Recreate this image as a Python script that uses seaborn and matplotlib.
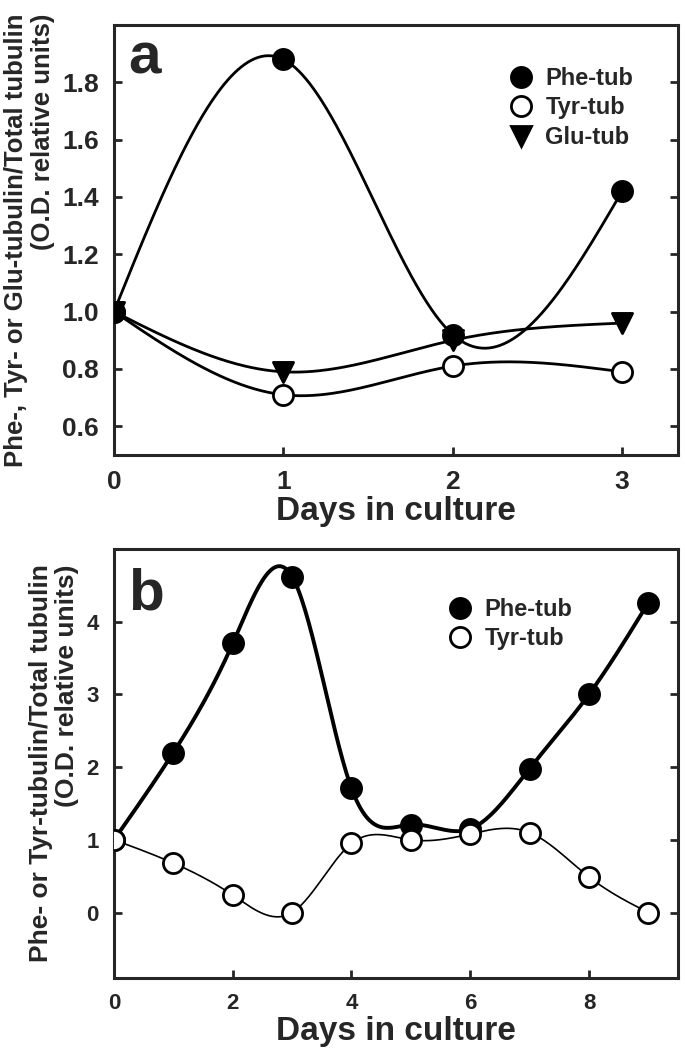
import numpy as np
import pandas as pd
import matplotlib
matplotlib.use("Agg")
import matplotlib.pyplot as plt
from matplotlib.lines import Line2D
import seaborn as sns

# ---------------- data ----------------
days_a = [0, 1, 2, 3]
phe_a = [1.00, 1.88, 0.92, 1.42]
tyr_a = [1.00, 0.71, 0.81, 0.79]
glu_a = [1.00, 0.79, 0.90, 0.96]

days_b = [0, 1, 2, 3, 4, 5, 6, 7, 8, 9]
phe_b = [1.00, 2.20, 3.70, 4.62, 1.71, 1.21, 1.15, 1.98, 3.00, 4.26]
tyr_b = [1.00, 0.68, 0.24, 0.00, 0.95, 1.00, 1.08, 1.10, 0.49, 0.00]

yticks_a = [0.6, 0.8, 1.0, 1.2, 1.4, 1.6, 1.8]
xticks_a = [0, 1, 2, 3]
yticks_b = [0, 1, 2, 3, 4]
xticks_b = [0, 2, 4, 6, 8]

ylabel_a = "Phe-, Tyr- or Glu-tubulin/Total tubulin\n(O.D. relative units)"
ylabel_b = "Phe- or Tyr-tubulin/Total tubulin\n(O.D. relative units)"
xlabel = "Days in culture"


def natural_spline(x, y, num=300):
    x = np.asarray(x, float)
    y = np.asarray(y, float)
    n = len(x)
    h = np.diff(x)
    A = np.zeros((n, n))
    r = np.zeros(n)
    A[0, 0] = 1
    A[-1, -1] = 1
    for i in range(1, n - 1):
        A[i, i - 1] = h[i - 1]
        A[i, i] = 2 * (h[i - 1] + h[i])
        A[i, i + 1] = h[i]
        r[i] = 6 * ((y[i + 1] - y[i]) / h[i] - (y[i] - y[i - 1]) / h[i - 1])
    M = np.linalg.solve(A, r)
    xs = np.linspace(x[0], x[-1], num)
    idx = np.clip(np.searchsorted(x, xs) - 1, 0, n - 2)
    x0, x1 = x[idx], x[idx + 1]
    hh = x1 - x0
    a = (x1 - xs) / hh
    b = (xs - x0) / hh
    ys = (a * y[idx] + b * y[idx + 1]
          + ((a ** 3 - a) * M[idx] + (b ** 3 - b) * M[idx + 1]) * hh ** 2 / 6)
    return xs, ys


sns.set_style("ticks")
plt.rcParams["font.family"] = ["Liberation Sans", "DejaVu Sans"]
plt.rcParams["font.weight"] = "bold"
plt.rcParams["axes.labelweight"] = "bold"

fig = plt.figure(figsize=(6.85, 10.49), dpi=100)
ax_a = fig.add_axes([0.1664, 0.5663, 0.8234, 0.4099])
ax_b = fig.add_axes([0.1664, 0.0677, 0.8234, 0.4090])

MS = 14.5  # marker diameter in points


def draw_curve(ax, x, y, lw, z):
    xs, ys = natural_spline(x, y)
    sns.lineplot(x=xs, y=ys, ax=ax, color="black", linewidth=lw,
                 estimator=None, sort=False, zorder=z)


def draw_points(ax, x, y, marker, face, z):
    sns.scatterplot(x=x, y=y, ax=ax, marker=marker, s=MS ** 2,
                    color=face, edgecolor="black", linewidth=2.0, zorder=z)


# ---- panel a ----
draw_curve(ax_a, days_a, phe_a, 2.0, 2)
draw_curve(ax_a, days_a, tyr_a, 2.0, 2)
draw_curve(ax_a, days_a, glu_a, 2.0, 2)
draw_points(ax_a, days_a, tyr_a, "o", "white", 4)
draw_points(ax_a, days_a, glu_a, "v", "black", 5)
draw_points(ax_a, days_a, phe_a, "o", "black", 6)

# ---- panel b ----
draw_curve(ax_b, days_b, phe_b, 2.8, 2)
draw_curve(ax_b, days_b, tyr_b, 1.2, 2)
draw_points(ax_b, days_b, phe_b, "o", "black", 4)
draw_points(ax_b, days_b, tyr_b, "o", "white", 6)


def style(ax, xlim, ylim, xt, yt, ylab, tick_fs, ylab_fs, letter, letter_y):
    ax.set_xlim(*xlim)
    ax.set_ylim(*ylim)
    ax.set_xticks(xt)
    ax.set_yticks(yt)
    if isinstance(yt[0], float):
        ax.set_yticklabels([f"{v:.1f}" for v in yt])
    for s in ax.spines.values():
        s.set_linewidth(2.2)
        s.set_visible(True)
    ax.tick_params(direction="in", length=6, width=2, labelsize=tick_fs,
                   right=True, top=False, labelright=False, pad=11)
    for lab in ax.get_xticklabels() + ax.get_yticklabels():
        lab.set_fontweight("bold")
    ax.set_xlabel(xlabel, fontsize=24, fontweight="bold", labelpad=1)
    ax.set_ylabel(ylab, fontsize=ylab_fs, fontweight="bold",
                  multialignment="right", labelpad=5, linespacing=1.15)
    ax.text(0.025, letter_y, letter, transform=ax.transAxes, fontsize=42,
            fontweight="bold", ha="left", va="baseline")


style(ax_a, (0, 3.33), (0.5, 2.0), xticks_a, yticks_a, ylabel_a, 19, 18.5,
      "a", 0.888)
style(ax_b, (0, 9.5), (-0.9, 5.0), xticks_b, yticks_b, ylabel_b, 16, 19,
      "b", 0.86)


def legend(ax, labels, markers, faces, anchor):
    handles = [Line2D([], [], linestyle="none", marker=m, markersize=MS,
                      markerfacecolor=f, markeredgecolor="black",
                      markeredgewidth=2.0)
               for m, f in zip(markers, faces)]
    ax.legend(handles, labels, loc="upper left", bbox_to_anchor=anchor,
              bbox_transform=fig.transFigure, frameon=False,
              prop={"weight": "bold", "size": 17}, handlelength=1.0,
              handletextpad=0.55, labelspacing=0.28, borderpad=0)


legend(ax_a, ["Phe-tub", "Tyr-tub", "Glu-tub"], ["o", "o", "v"],
       ["black", "white", "black"], (497 / 685, 1 - 55 / 1049))
legend(ax_b, ["Phe-tub", "Tyr-tub"], ["o", "o"], ["black", "white"],
       (436 / 685, 1 - 586 / 1049))

fig.savefig("out.png", dpi=100)
